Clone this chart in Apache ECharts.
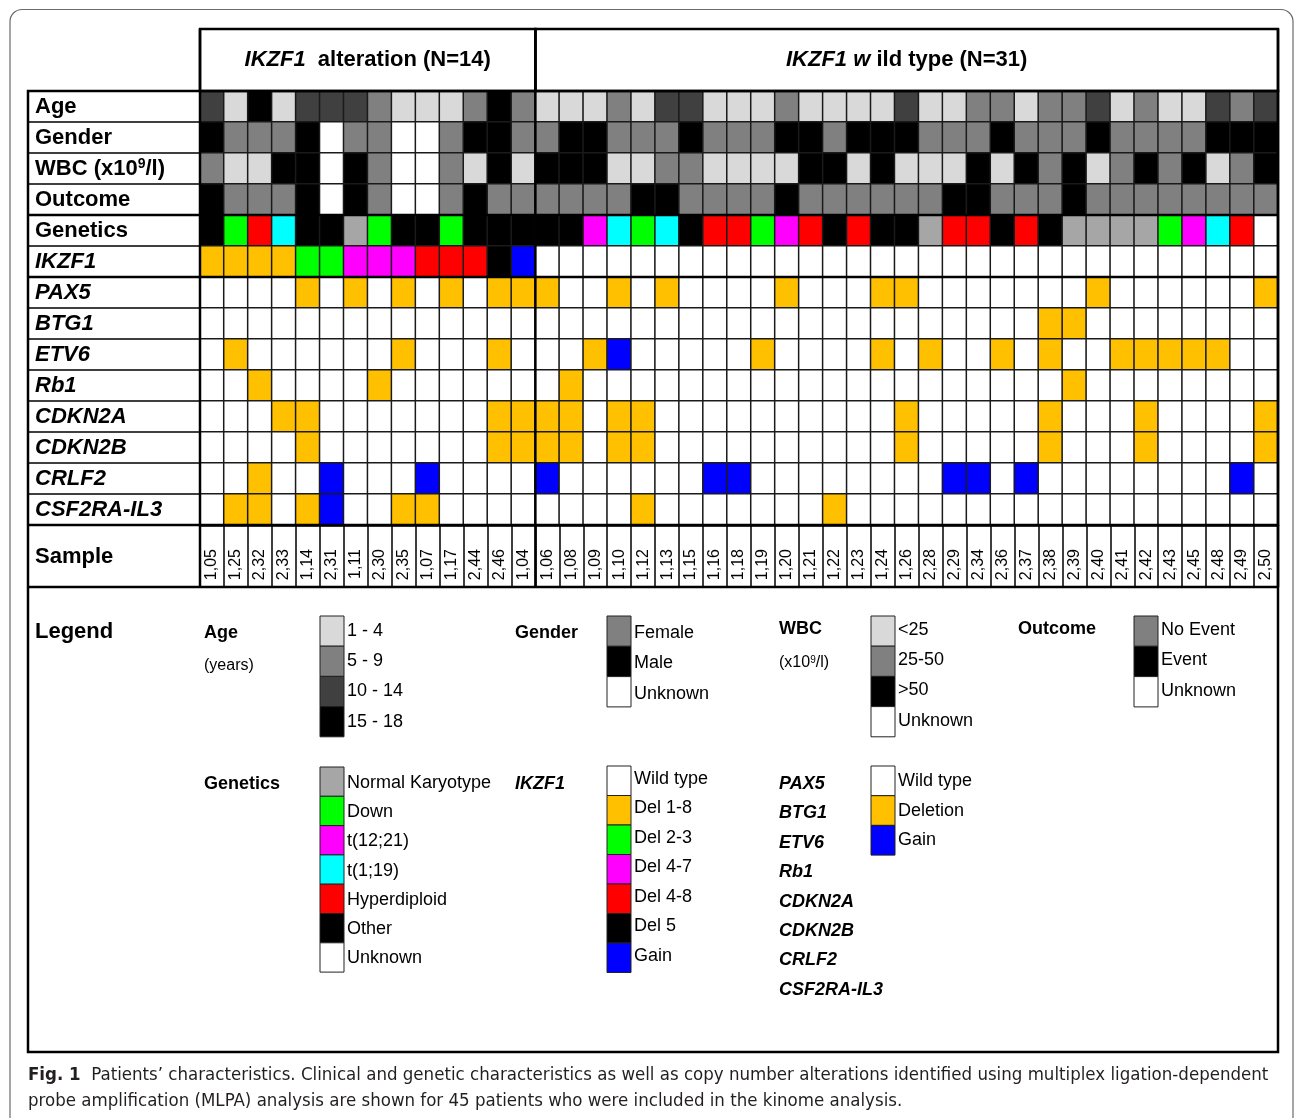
<!DOCTYPE html>
<html>
<head>
<meta charset="utf-8">
<title>Patients' characteristics</title>
<script src="https://cdn.jsdelivr.net/npm/echarts@6/dist/echarts.min.js"></script>
<style>
  html, body { margin: 0; padding: 0; background: #fff; }
  #chart { width: 1295px; height: 1118px; }
</style>
</head>
<body>
<div id="chart"></div>
<script>
// samples: first 14 have an IKZF1 alteration, the other 31 are IKZF1 wild type
const samples = [
  '1,05', '1,25', '2,32', '2,33', '1,14', '2,31', '1,11', '2,30', '2,35', '1,07', '1,17', '2,44', '2,46', '1,04',
  '1,06', '1,08', '1,09', '1,10', '1,12', '1,13', '1,15', '1,16', '1,18', '1,19', '1,20', '1,21', '1,22', '1,23', '1,24', '1,26',
  '2,28', '2,29', '2,34', '2,36', '2,37', '2,38', '2,39', '2,40', '2,41', '2,42', '2,43', '2,45', '2,48', '2,49', '2,50'
];
const nAltered = 14;

const rowNames = ['Age', 'Gender', 'WBC (x10^9/l)', 'Outcome', 'Genetics', 'IKZF1',
  'PAX5', 'BTG1', 'ETV6', 'Rb1', 'CDKN2A', 'CDKN2B', 'CRLF2', 'CSF2RA-IL3'];

// clinical categories (values below are indexes into these)
const ageGroups = ['1 - 4', '5 - 9', '10 - 14', '15 - 18'];
const ageColors = ['#d9d9d9', '#808080', '#404040', '#000000'];
const genderGroups = ['Female', 'Male', 'Unknown'];
const genderColors = ['#808080', '#000000', '#ffffff'];
const wbcGroups = ['<25', '25-50', '>50', 'Unknown'];
const wbcColors = ['#d9d9d9', '#808080', '#000000', '#ffffff'];
const outcomeGroups = ['No Event', 'Event', 'Unknown'];
const outcomeColors = ['#808080', '#000000', '#ffffff'];
const geneticsGroups = ['Normal Karyotype', 'Down', 't(12;21)', 't(1;19)', 'Hyperdiploid', 'Other', 'Unknown'];
const geneticsColors = ['#a6a6a6', '#00ff00', '#ff00ff', '#00ffff', '#ff0000', '#000000', '#ffffff'];
const ikzf1Groups = ['Wild type', 'Del 1-8', 'Del 2-3', 'Del 4-7', 'Del 4-8', 'Del 5', 'Gain'];
const ikzf1Colors = ['#ffffff', '#ffc000', '#00ff00', '#ff00ff', '#ff0000', '#000000', '#0000ff'];
const cnaGroups = ['Wild type', 'Deletion', 'Gain'];
const cnaColors = ['#ffffff', '#ffc000', '#0000ff'];

const age = [2, 0, 3, 0, 2, 2, 2, 1, 0, 0, 0, 1, 3, 1,
  0, 0, 0, 1, 0, 2, 2, 0, 0, 0, 1, 0, 0, 0, 0, 2,
  0, 0, 1, 1, 0, 1, 1, 2, 0, 1, 0, 0, 2, 1, 2];
const gender = [1, 0, 0, 0, 1, 2, 0, 0, 2, 2, 0, 1, 1, 0,
  0, 1, 1, 0, 0, 0, 1, 0, 0, 0, 1, 1, 0, 1, 1, 1,
  0, 0, 0, 1, 0, 0, 0, 1, 0, 0, 0, 0, 1, 1, 1];
const wbc = [1, 0, 0, 2, 2, 3, 2, 1, 3, 3, 1, 0, 2, 0,
  2, 2, 2, 0, 0, 1, 1, 0, 0, 0, 0, 2, 2, 0, 2, 0,
  0, 0, 2, 0, 2, 1, 2, 0, 1, 2, 1, 2, 0, 1, 2];
const outcome = [1, 0, 0, 0, 1, 2, 1, 0, 2, 2, 0, 1, 0, 0,
  0, 0, 0, 0, 1, 1, 0, 0, 0, 0, 1, 0, 0, 0, 0, 0,
  0, 1, 1, 0, 0, 0, 1, 0, 0, 0, 0, 0, 0, 0, 0];
const genetics = [5, 1, 4, 3, 5, 5, 0, 1, 5, 5, 1, 5, 5, 5,
  5, 5, 2, 3, 1, 3, 5, 4, 4, 1, 2, 4, 5, 4, 5, 5,
  0, 4, 4, 5, 4, 5, 0, 0, 0, 0, 1, 2, 3, 4, 6];
const ikzf1 = [1, 1, 1, 1, 2, 2, 3, 3, 3, 4, 4, 4, 5, 6,
  0, 0, 0, 0, 0, 0, 0, 0, 0, 0, 0, 0, 0, 0, 0, 0,
  0, 0, 0, 0, 0, 0, 0, 0, 0, 0, 0, 0, 0, 0, 0];

// copy number alterations: 0 wild type, 1 deletion, 2 gain
const pax5 = [0, 0, 0, 0, 1, 0, 1, 0, 1, 0, 1, 0, 1, 1,
  1, 0, 0, 1, 0, 1, 0, 0, 0, 0, 1, 0, 0, 0, 1, 1,
  0, 0, 0, 0, 0, 0, 0, 1, 0, 0, 0, 0, 0, 0, 1];
const btg1 = [0, 0, 0, 0, 0, 0, 0, 0, 0, 0, 0, 0, 0, 0,
  0, 0, 0, 0, 0, 0, 0, 0, 0, 0, 0, 0, 0, 0, 0, 0,
  0, 0, 0, 0, 0, 1, 1, 0, 0, 0, 0, 0, 0, 0, 0];
const etv6 = [0, 1, 0, 0, 0, 0, 0, 0, 1, 0, 0, 0, 1, 0,
  0, 0, 1, 2, 0, 0, 0, 0, 0, 1, 0, 0, 0, 0, 1, 0,
  1, 0, 0, 1, 0, 1, 0, 0, 1, 1, 1, 1, 1, 0, 0];
const rb1 = [0, 0, 1, 0, 0, 0, 0, 1, 0, 0, 0, 0, 0, 0,
  0, 1, 0, 0, 0, 0, 0, 0, 0, 0, 0, 0, 0, 0, 0, 0,
  0, 0, 0, 0, 0, 0, 1, 0, 0, 0, 0, 0, 0, 0, 0];
const cdkn2a = [0, 0, 0, 1, 1, 0, 0, 0, 0, 0, 0, 0, 1, 1,
  1, 1, 0, 1, 1, 0, 0, 0, 0, 0, 0, 0, 0, 0, 0, 1,
  0, 0, 0, 0, 0, 1, 0, 0, 0, 1, 0, 0, 0, 0, 1];
const cdkn2b = [0, 0, 0, 0, 1, 0, 0, 0, 0, 0, 0, 0, 1, 1,
  1, 1, 0, 1, 1, 0, 0, 0, 0, 0, 0, 0, 0, 0, 0, 1,
  0, 0, 0, 0, 0, 1, 0, 0, 0, 1, 0, 0, 0, 0, 1];
const crlf2 = [0, 0, 1, 0, 0, 2, 0, 0, 0, 2, 0, 0, 0, 0,
  2, 0, 0, 0, 0, 0, 0, 2, 2, 0, 0, 0, 0, 0, 0, 0,
  0, 2, 2, 0, 2, 0, 0, 0, 0, 0, 0, 0, 0, 2, 0];
const csf2raIl3 = [0, 1, 1, 0, 1, 2, 0, 0, 1, 1, 0, 0, 0, 0,
  0, 0, 0, 0, 1, 0, 0, 0, 0, 0, 0, 0, 1, 0, 0, 0,
  0, 0, 0, 0, 0, 0, 0, 0, 0, 0, 0, 0, 0, 0, 0];

const FONT = '"Liberation Sans", Arial, Helvetica, sans-serif';
const CAPTION_FONT = '"Liberation Sans Narrow", "DejaVu Sans Condensed", "Liberation Sans", sans-serif';

const rows = [
  [age, ageColors], [gender, genderColors], [wbc, wbcColors], [outcome, outcomeColors],
  [genetics, geneticsColors], [ikzf1, ikzf1Colors],
  [pax5, cnaColors], [btg1, cnaColors], [etv6, cnaColors], [rb1, cnaColors],
  [cdkn2a, cnaColors], [cdkn2b, cnaColors], [crlf2, cnaColors], [csf2raIl3, cnaColors]
];

const cells = [];
rows.forEach(([values, colors], r) => {
  values.forEach((v, i) => {
    cells.push({ value: [i, r, v], itemStyle: { color: colors[v] } });
  });
});

const chart = echarts.init(document.getElementById('chart'));

chart.setOption({
  animation: false,
  grid: { left: 200, top: 91, width: 1078, height: 434 },
  xAxis: {
    type: 'category',
    data: samples,
    axisLine: { show: true, lineStyle: { color: '#000', width: 2.5 } },
    axisTick: { show: true, interval: 0, length: 62, lineStyle: { color: '#000', width: 1.5 } },
    axisLabel: { rotate: 90, interval: 0, margin: 24, fontSize: 16, color: '#000', fontFamily: FONT },
    splitLine: { show: false }
  },
  yAxis: {
    type: 'category',
    data: rowNames,
    inverse: true,
    axisLine: { show: true, lineStyle: { color: '#000', width: 2.5 } },
    axisTick: { show: true, interval: 0, length: 172, lineStyle: { color: '#000', width: 1.5 } },
    axisLabel: {
      interval: 0,
      align: 'left',
      margin: 165,
      formatter: (name, idx) => {
        if (name.startsWith('WBC')) return '{b|WBC (x10}{sup|9}{b|/l)}';
        return idx >= 5 ? '{g|' + name + '}' : '{b|' + name + '}';
      },
      rich: {
        b: { fontSize: 22, fontWeight: 'bold', color: '#000', fontFamily: FONT },
        g: { fontSize: 22, fontWeight: 'bold', fontStyle: 'italic', color: '#000', fontFamily: FONT },
        sup: { fontSize: 14, fontWeight: 'bold', color: '#000', fontFamily: FONT, verticalAlign: 'top' }
      }
    },
    splitLine: { show: false }
  },
  series: [{
    type: 'heatmap',
    data: cells,
    itemStyle: { borderColor: '#1a1a1a', borderWidth: 1.5 },
    emphasis: { disabled: true }
  }]
});

// frame lines and header boxes, placed from the axes
const c0 = chart.convertToPixel({ gridIndex: 0 }, [0, 0]);
const c1 = chart.convertToPixel({ gridIndex: 0 }, [1, 1]);
const colW = c1[0] - c0[0];
const rowH = c1[1] - c0[1];
const colEdge = k => c0[0] - colW / 2 + k * colW;
const rowEdge = k => c0[1] - rowH / 2 + k * rowH;

const left = 28;
const right = colEdge(samples.length);
const gridTop = rowEdge(0);
const gridBottom = rowEdge(rowNames.length);
const headTop = gridTop - 2 * rowH;
const sampleBottom = gridBottom + 2 * rowH;
const split = colEdge(nAltered);
const legendBottom = 1052;

const line = (x1, y1, x2, y2, w) => ({
  type: 'line', z: 100, shape: { x1, y1, x2, y2 }, style: { stroke: '#000', lineWidth: w }
});
const text = (x, y, str, opts) => ({
  type: 'text', z: 100, x, y,
  style: Object.assign({ text: str, fill: '#000', fontFamily: FONT, fontSize: 18, verticalAlign: 'middle' }, opts)
});

const g = [];
// rounded page frame
g.push({ type: 'rect', z: 0, shape: { x: 10, y: 9.5, width: 1283, height: 1140, r: 12 },
  style: { fill: 'none', stroke: '#6b6b6b', lineWidth: 1.2 } });
// header boxes
g.push({ type: 'rect', z: 100, shape: { x: colEdge(0), y: headTop, width: split - colEdge(0), height: gridTop - headTop },
  style: { fill: 'none', stroke: '#000', lineWidth: 2.5 } });
g.push({ type: 'rect', z: 100, shape: { x: split, y: headTop, width: right - split, height: gridTop - headTop },
  style: { fill: 'none', stroke: '#000', lineWidth: 2.5 } });
const headRich = {
  i: { fontSize: 22, fontWeight: 'bold', fontStyle: 'italic', fontFamily: FONT },
  n: { fontSize: 22, fontWeight: 'bold', fontFamily: FONT }
};
g.push(text((colEdge(0) + split) / 2, (headTop + gridTop) / 2, '{i|IKZF1}{n|  alteration (N=14)}', { align: 'center', rich: headRich }));
g.push(text((split + right) / 2, (headTop + gridTop) / 2, '{i|IKZF1 w}{n| ild type (N=31)}', { align: 'center', rich: headRich }));

// table outline
g.push({ type: 'rect', z: 100, shape: { x: left, y: gridTop, width: right - left, height: legendBottom - gridTop },
  style: { fill: 'none', stroke: '#000', lineWidth: 2.5 } });
g.push(line(left, rowEdge(4), right, rowEdge(4), 2.5));
g.push(line(left, rowEdge(6), right, rowEdge(6), 2.5));
g.push(line(left, gridBottom, right, gridBottom, 2.5));
g.push(line(left, sampleBottom, right, sampleBottom, 2.5));
g.push(line(colEdge(0), headTop, colEdge(0), sampleBottom, 2.5));
g.push(line(split, headTop, split, sampleBottom, 2.5));
g.push(line(right, headTop, right, sampleBottom, 2.5));
g.push(text(35, (gridBottom + sampleBottom) / 2 + 1, 'Sample', { fontSize: 22, fontWeight: 'bold' }));

// legend
function stack(x, y, h, labels, colors, dy) {
  labels.forEach((lab, k) => {
    g.push({ type: 'rect', z: 100, shape: { x, y: y + k * h, width: 24, height: h },
      style: { fill: colors[k], stroke: '#222', lineWidth: 1 } });
    g.push(text(x + 27, y + k * h + h / 2 + (dy || 0), lab));
  });
}
const bold = { fontWeight: 'bold' };
const boldIt = { fontWeight: 'bold', fontStyle: 'italic' };
g.push(text(35, 632, 'Legend', { fontSize: 22, fontWeight: 'bold' }));

g.push(text(204, 633, 'Age', bold));
g.push(text(204, 666, '(years)', { fontSize: 16 }));
stack(320, 616, 30.2, ageGroups, ageColors);

g.push(text(515, 633, 'Gender', bold));
stack(607, 616, 30.3, genderGroups, genderColors, 2);

g.push(text(779, 629, 'WBC', bold));
g.push(text(779, 663, '{t|(x10}{s|9}{t|/l)}', {
  rich: { t: { fontSize: 16, fontFamily: FONT }, s: { fontSize: 10, fontFamily: FONT, verticalAlign: 'top' } }
}));
stack(871, 616, 30.2, wbcGroups, wbcColors, -1);

g.push(text(1018, 629, 'Outcome', bold));
stack(1134, 616, 30.3, outcomeGroups, outcomeColors, -1);

g.push(text(204, 784, 'Genetics', bold));
stack(320, 767, 29.3, geneticsGroups, geneticsColors, 1);

g.push(text(515, 784, 'IKZF1', boldIt));
stack(607, 766, 29.5, ikzf1Groups, ikzf1Colors, -2);

rowNames.slice(6).forEach((name, k) => g.push(text(779, 784 + k * 29.4, name, boldIt)));
stack(871, 766, 29.7, cnaGroups, cnaColors);

// caption
const capSize = 18.5;
g.push(text(28, 1075, '{f|Fig. 1}  Patients\u2019 characteristics. Clinical and genetic characteristics as well as copy number alterations identified using multiplex ligation-dependent', {
  fontFamily: CAPTION_FONT, fontSize: capSize, fill: '#231f20',
  rich: { f: { fontFamily: CAPTION_FONT, fontSize: capSize, fontWeight: 'bold', fill: '#231f20' } }
}));
g.push(text(28, 1101, 'probe amplification (MLPA) analysis are shown for 45 patients who were included in the kinome analysis.', {
  fontFamily: CAPTION_FONT, fontSize: capSize, fill: '#231f20'
}));

chart.setOption({ graphic: { elements: g } });
</script>
</body>
</html>
